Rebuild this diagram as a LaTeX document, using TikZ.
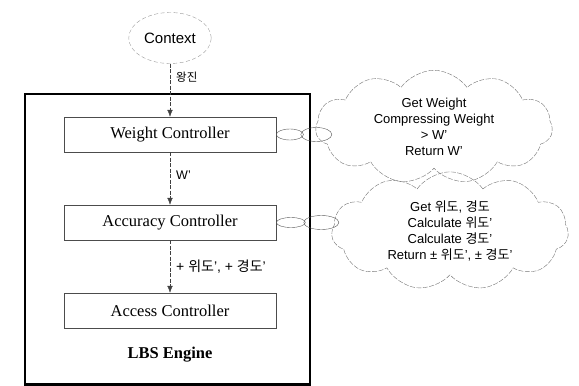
\documentclass[tikz,border=0pt]{standalone}
\usepackage{fontspec}
\setmainfont{Liberation Serif}
\setsansfont{Liberation Sans}
\newfontfamily\kr{Noto Sans CJK KR}
\newcommand{\hg}[1]{{\kr #1}} % hangul words inside latin text
\usetikzlibrary{positioning, arrows.meta, shapes.geometric, shapes.symbols}
\tikzset{
	>={Latex[length=7pt, width=5.5pt]}, % filled triangle heads
	node distance=88pt, % centre to centre between the controllers
	ctrl/.style={draw=black!70, thin, minimum width=212pt, minimum height=35pt, font=\fontsize{16.5}{19}\selectfont},
	flow/.style={->, draw=black!75, dash pattern=on 4pt off 1.5pt},
	flowlabel/.style={right, xshift=5pt, inner sep=1pt, font=\sffamily\fontsize{12.5}{14}\selectfont},
	thought/.style={cloud, cloud puffs=11, cloud puff arc=110, cloud ignores aspect, draw=black!55, dash pattern=on 5pt off 1.5pt, align=center, font=\sffamily\fontsize{13}{16}\selectfont},
	bubble/.style={ellipse, draw=black!65, thin, inner sep=0pt},
}

\begin{document}
\begin{tikzpicture}[x=1pt, y=-1pt]
	\useasboundingbox (0,0) rectangle (579,386);
	% engine frame
	\draw[line width=2.5pt] (25,94) rectangle (310,384.5);
	\node[font=\bfseries\fontsize{16.5}{19}\selectfont] (eng) at (170,355) {LBS Engine};

	\node[ellipse, draw=black!40, dash pattern=on 4pt off 2.5pt, minimum width=76pt, minimum height=51pt, font=\sffamily\fontsize{15}{17}\selectfont] (ctx) at (170,38) {Context};
	\node[ctrl] (wc) at (170,134.5) {Weight Controller};
	\node[ctrl, below of=wc] (ac) {Accuracy Controller};
	\node[ctrl, below of=ac] (xc) {Access Controller};

	\draw 	(ctx) edge[flow] node[flowlabel, pos=.25, font=\kr\fontsize{11.5}{13}\selectfont]{왕진} (wc)
			(wc) edge[flow] node[flowlabel, pos=.43]{W'} (ac)
			(ac) edge[flow] node[flowlabel, font=\sffamily\fontsize{14}{16}\selectfont]{+ \hg{위도}', + \hg{경도}'} (xc);

	% thought bubbles
	\node[bubble, minimum width=27pt, minimum height=11pt, anchor=west] (wb1) at (wc.east) {};
	\node[bubble, minimum width=31pt, minimum height=14pt, right=-3pt of wb1] (wb2) {};
	\node[thought, minimum width=237pt, minimum height=85pt] (wt) at (434,127)
		{Get Weight\\Compressing Weight\\> W'\\Return W'};

	\node[bubble, minimum width=29pt, minimum height=10pt, anchor=west] (ab1) at (ac.east) {};
	\node[bubble, minimum width=35pt, minimum height=14pt, right=-2pt of ab1] (ab2) {};
	\node[thought, minimum width=237pt, minimum height=95pt] (at) at (450,231)
		{Get \hg{위도}, \hg{경도}\\Calculate \hg{위도}'\\Calculate \hg{경도}'\\Return ± \hg{위도}', ± \hg{경도}'};
\end{tikzpicture}
\end{document}
